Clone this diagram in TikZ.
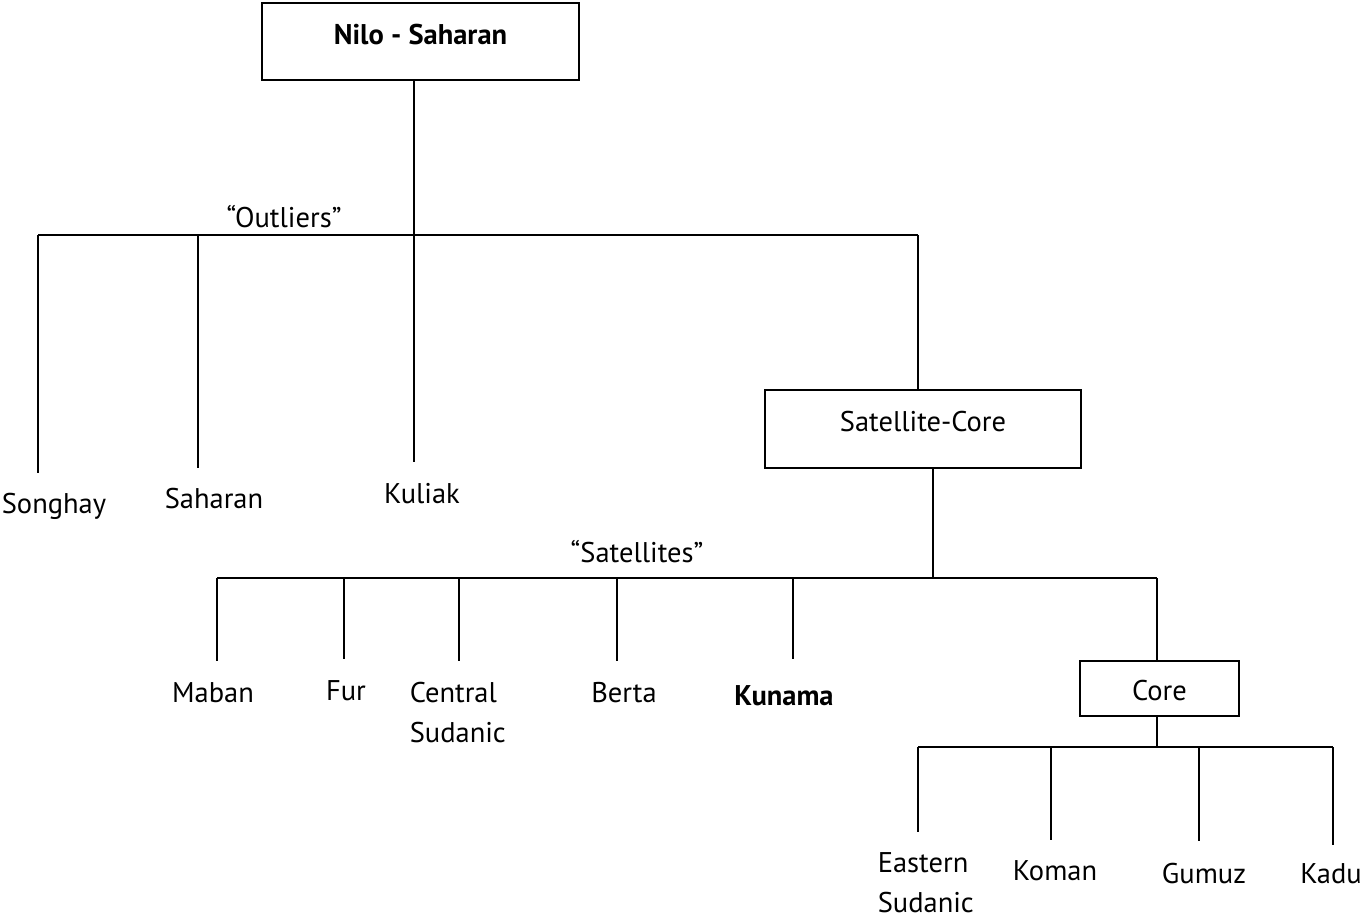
\documentclass[tikz,border=0pt]{standalone}
\usepackage{fontspec}
\setmainfont{PT Sans}
\begin{document}
\begin{tikzpicture}[x=1pt,y=-1pt,line width=1.6pt,
  lbl/.style={font=\fontsize{28.5}{40}\selectfont,inner sep=0pt,anchor=base,align=center},
  lbll/.style={font=\fontsize{28.5}{40}\selectfont,inner sep=0pt,anchor=base west,align=left},
  boxnode/.style={draw,line width=1.6pt,font=\fontsize{28.5}{40}\selectfont,inner xsep=0pt,inner ysep=0pt,anchor=base}]
\useasboundingbox (0,0) rectangle (1361,918);
% boxes
\node[boxnode,minimum width=317pt,text height=42pt,text depth=35pt] (root) at (420.5,45) {\bfseries Nilo - Saharan};
\node[boxnode,minimum width=316pt,text height=41pt,text depth=37pt] (satcore) at (923,431) {Satellite-Core};
\node[boxnode,minimum width=159pt,text height=39pt,text depth=16pt] (core) at (1159.5,700) {Core};
% junction coordinates
\coordinate (j1) at (414,235);
\coordinate (o1) at (38,235);
\coordinate (o2) at (198,235);
\coordinate (o4) at (918,235);
\coordinate (j2) at (933,578);
\coordinate (s1) at (217,578);
\coordinate (s2) at (344,578);
\coordinate (s3) at (459,578);
\coordinate (s4) at (617,578);
\coordinate (s5) at (793,578);
\coordinate (s6) at (1157,578);
\coordinate (j3) at (1157,747);
\coordinate (c1) at (918,747);
\coordinate (c2) at (1051,747);
\coordinate (c3) at (1199,747);
\coordinate (c4) at (1333,747);
% leaf line ends
\coordinate (songhayE) at (38,473);
\coordinate (saharanE) at (198,468);
\coordinate (kuliakE) at (414,462);
\coordinate (mabanE) at (217,661);
\coordinate (furE) at (344,659);
\coordinate (centralE) at (459,661);
\coordinate (bertaE) at (617,661);
\coordinate (kunamaE) at (793,659);
\coordinate (easternE) at (918,832);
\coordinate (komanE) at (1051,840);
\coordinate (gumuzE) at (1199,841);
\coordinate (kaduE) at (1333,845);
% labels
\node[lbl] (outliers) at (284,227) {“Outliers”};
\node[lbl] (songhay) at (54,513) {Songhay};
\node[lbl] (saharan) at (214,508) {Saharan};
\node[lbl] (kuliak) at (422,503) {Kuliak};
\node[lbl] (satellites) at (637,562) {“Satellites”};
\node[lbl] (maban) at (213,702) {Maban};
\node[lbl] (fur) at (346,700) {Fur};
\node[lbll] (central) at (409,742) {Central\\Sudanic};
\node[lbl] (berta) at (624,702) {Berta};
\node[lbl] (kunama) at (784,705) {\bfseries Kunama};
\node[lbll] (eastern) at (877,912) {Eastern\\Sudanic};
\node[lbl] (koman) at (1055,880) {Koman};
\node[lbl] (gumuz) at (1204,883) {Gumuz};
\node[lbl] (kadu) at (1331,883) {Kadu};
% connectors
\draw (root.south -| j1) -- (kuliakE);
\draw (o1) -- (o4);
\draw (o1) -- (songhayE);
\draw (o2) -- (saharanE);
\draw (o4) -- (satcore.north -| o4);
\draw (satcore.south -| j2) -- (j2);
\draw (s1) -- (s6);
\draw (s1) -- (mabanE);
\draw (s2) -- (furE);
\draw (s3) -- (centralE);
\draw (s4) -- (bertaE);
\draw (s5) -- (kunamaE);
\draw (s6) -- (core.north -| s6);
\draw (core.south -| j3) -- (j3);
\draw (c1) -- (c4);
\draw (c1) -- (easternE);
\draw (c2) -- (komanE);
\draw (c3) -- (gumuzE);
\draw (c4) -- (kaduE);
\end{tikzpicture}
\end{document}
